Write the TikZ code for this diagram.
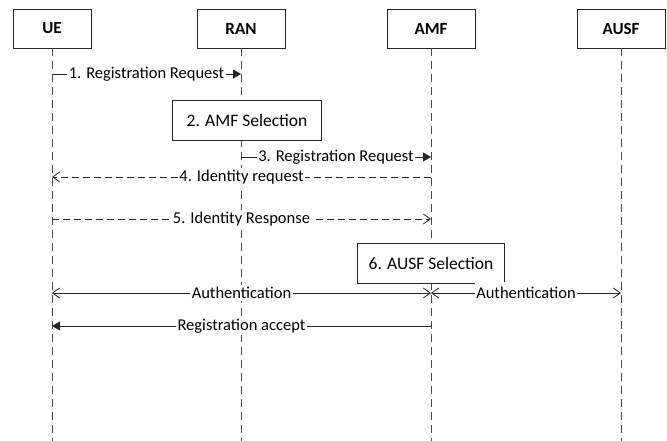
\documentclass[tikz,border=0pt]{standalone}
\usepackage{fontspec}
\setmainfont{Carlito}
\usetikzlibrary{arrows.meta}
\definecolor{ink}{HTML}{262626}
\definecolor{life}{HTML}{4A4A4A}
\tikzset{
  actor/.style={draw=ink, line width=0.9pt, fill=white, minimum height=39pt,
    inner sep=0pt, font=\fontsize{17}{17}\selectfont\bfseries},
  lifeline/.style={draw=life, line width=0.9pt, dash pattern=on 8pt off 5pt},
  procbox/.style={draw=ink, line width=0.9pt, fill=white, minimum width=149pt,
    minimum height=40pt, inner sep=0pt, font=\fontsize{17.5}{17.5}\selectfont},
  lbl/.style={fill=white, inner xsep=1.5pt, inner ysep=2pt,
    font=\fontsize{16.5}{16.5}\selectfont},
  syncmsg/.style={draw=ink, line width=0.8pt,
    -{Triangle[length=8pt,width=9pt]}},
  replymsg/.style={draw=ink, line width=0.8pt, dash pattern=on 7pt off 4pt,
    -{Straight Barb[length=7pt,width=10pt,line width=0.8pt]}},
  openmsg/.style={draw=ink, line width=0.8pt,
    {Straight Barb[length=7pt,width=10pt,line width=0.8pt]}-{Straight Barb[length=7pt,width=10pt,line width=0.8pt]}},
  retmsg/.style={draw=ink, line width=0.8pt,
    -{Triangle[length=8pt,width=9pt]}},
}
\begin{document}
\begin{tikzpicture}[x=1pt,y=-1pt]
\useasboundingbox (0,0) rectangle (667,441);

% participants
\node[actor, minimum width=78pt] (ue)   at (52,28.5)  {UE};
\node[actor, minimum width=88pt] (ran)  at (241,28.5) {RAN};
\node[actor, minimum width=88pt] (amf)  at (431,28.5) {AMF};
\node[actor, minimum width=88pt] (ausf) at (621,28.5) {AUSF};

% lifeline ends
\coordinate (ue-end)   at (ue.south |- 0,441);
\coordinate (ran-end)  at (ran.south |- 0,441);
\coordinate (amf-end)  at (amf.south |- 0,441);
\coordinate (ausf-end) at (ausf.south |- 0,441);
\draw[lifeline] (ue.south) -- (ue-end);
\draw[lifeline] (ran.south) -- (ran-end);
\draw[lifeline] (amf.south) -- (amf-end);
\draw[lifeline] (ausf.south) -- (ausf-end);

% message anchor points on the lifelines
\coordinate (m1a) at (ue.south |- 0,74);
\coordinate (m1b) at (ran.south |- 0,74);
\coordinate (m3a) at (ran.south |- 0,157);
\coordinate (m3b) at (amf.south |- 0,157);
\coordinate (m4a) at (amf.south |- 0,177);
\coordinate (m4b) at (ue.south |- 0,177);
\coordinate (m5a) at (ue.south |- 0,219);
\coordinate (m5b) at (amf.south |- 0,219);
\coordinate (auA) at (ue.south |- 0,293);
\coordinate (auB) at (amf.south |- 0,293);
\coordinate (auC) at (ausf.south |- 0,293);
\coordinate (raA) at (amf.south |- 0,326);
\coordinate (raB) at (ue.south |- 0,326);

% 1. registration request
\draw[syncmsg] (m1a) -- node[lbl] {1. Registration Request} (m1b);

% 2. AMF selection
\node[procbox] (amfsel) at (247,120) {2. AMF Selection};

% 3. registration request forwarded
\draw[syncmsg] (m3a) -- node[lbl] {3. Registration Request} (m3b);

% 4. identity request
\draw[replymsg] (m4a) -- node[lbl] {4. Identity request} (m4b);

% 5. identity response
\draw[replymsg] (m5a) -- node[lbl] {5. Identity Response} (m5b);

% 6. AUSF selection
\node[procbox, minimum width=147pt] (ausfsel) at (431,263.5) {6. AUSF Selection};

% authentication exchanges (the right label's backing overlaps the box corner)
\draw[openmsg] (auA) -- node[lbl] {Authentication} (auB);
\draw[openmsg] (auB) -- node[lbl, inner ysep=5pt] {Authentication} (auC);

% registration accept
\draw[retmsg] (raA) -- node[lbl] {Registration accept} (raB);
\end{tikzpicture}
\end{document}
